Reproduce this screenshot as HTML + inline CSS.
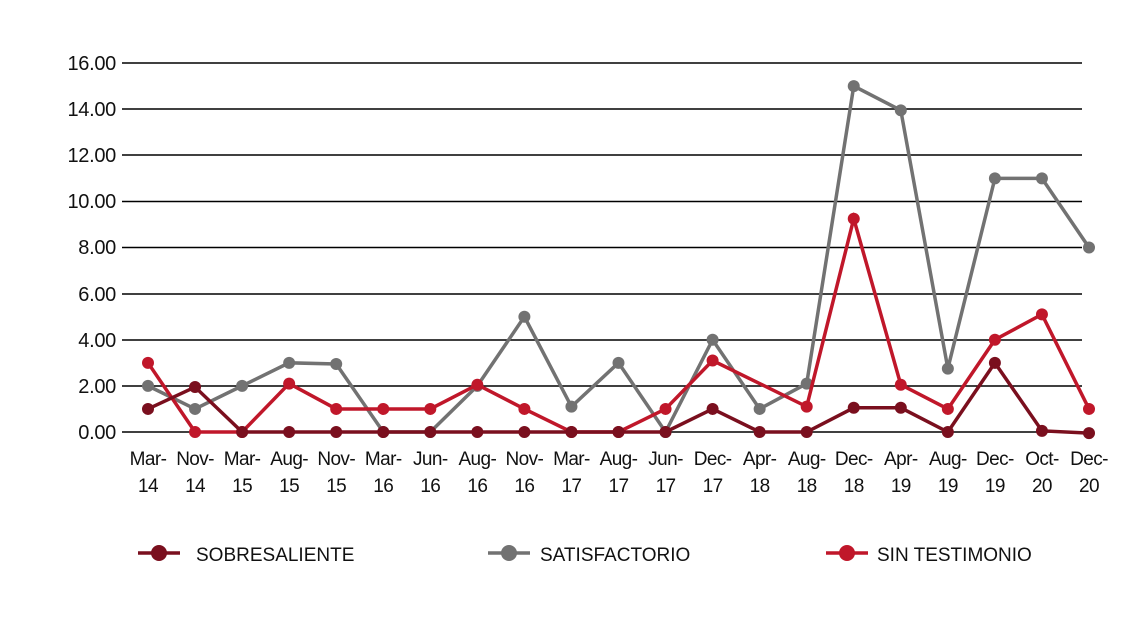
<!DOCTYPE html>
<html><head><meta charset="utf-8"><style>
body{margin:0;background:#fff;}
svg text{font-family:"Liberation Sans",sans-serif;fill:#111;}
</style></head><body>
<svg width="1136" height="625" xmlns="http://www.w3.org/2000/svg">
<g stroke="#000" stroke-width="1.5">
<line x1="122" x2="1082" y1="63" y2="63"/><line x1="122" x2="1082" y1="109" y2="109"/>
<line x1="122" x2="1082" y1="155" y2="155"/><line x1="122" x2="1082" y1="201.5" y2="201.5"/>
<line x1="122" x2="1082" y1="247.5" y2="247.5"/><line x1="122" x2="1082" y1="294" y2="294"/>
<line x1="122" x2="1082" y1="340" y2="340"/><line x1="122" x2="1082" y1="386" y2="386"/>
<line x1="122" x2="1082" y1="432" y2="432"/>
</g>
<g font-size="20" text-anchor="end" letter-spacing="-0.3">
<text x="116" y="70">16.00</text><text x="116" y="116">14.00</text><text x="116" y="162">12.00</text>
<text x="116" y="208">10.00</text><text x="116" y="254">8.00</text><text x="116" y="301">6.00</text>
<text x="116" y="347">4.00</text><text x="116" y="393">2.00</text><text x="116" y="439">0.00</text>
</g>
<g id="xl" font-size="19" text-anchor="middle" letter-spacing="-0.6"></g>
<g id="series"></g>
<g font-size="19">
<line x1="138" x2="180" y1="553" y2="553" stroke="#7a0f1e" stroke-width="3.5"/><circle cx="159" cy="553" r="8" fill="#7a0f1e"/>
<text x="196" y="561">SOBRESALIENTE</text>
<line x1="488" x2="530" y1="553" y2="553" stroke="#727272" stroke-width="3.5"/><circle cx="509" cy="553" r="8" fill="#727272"/>
<text x="540" y="561">SATISFACTORIO</text>
<line x1="826" x2="868" y1="553" y2="553" stroke="#c0172a" stroke-width="3.5"/><circle cx="847" cy="553" r="8" fill="#c0172a"/>
<text x="877" y="561">SIN TESTIMONIO</text>
</g>
<script>
var labs=["Mar-14","Nov-14","Mar-15","Aug-15","Nov-15","Mar-16","Jun-16","Aug-16","Nov-16","Mar-17","Aug-17","Jun-17","Dec-17","Apr-18","Aug-18","Dec-18","Apr-19","Aug-19","Dec-19","Oct-20","Dec-20"];
var ns="http://www.w3.org/2000/svg";
function X(i){return 148+i*47.05;}function Y(v){return 432-v*23.06;}
var g=document.getElementById("xl");
labs.forEach(function(l,i){var p=l.split("-");
var t=document.createElementNS(ns,"text");t.setAttribute("x",X(i));t.setAttribute("y",465);t.textContent=p[0]+"-";g.appendChild(t);
t=document.createElementNS(ns,"text");t.setAttribute("x",X(i));t.setAttribute("y",492);t.textContent=p[1];g.appendChild(t);});
var S=[
["#727272",[2,1,2,3,2.95,0,0,2,5,1.1,3,0,4,1,2.1,15,13.95,2.75,11,11,8],[]],
["#c0172a",[3,0,0,2.1,1,1,1,2.05,1,0,0,1,3.1,2.1,1.1,9.25,2.05,1,4,5.1,1],[13]],
["#7a0f1e",[1,1.95,0,0,0,0,0,0,0,0,0,0,1,0,0,1.05,1.05,0,3,0.05,-0.05],[]]];
var sg=document.getElementById("series");
S.forEach(function(s){var pts=s[1].map(function(v,i){return X(i)+","+Y(v);}).join(" ");
var pl=document.createElementNS(ns,"polyline");pl.setAttribute("points",pts);pl.setAttribute("fill","none");pl.setAttribute("stroke",s[0]);pl.setAttribute("stroke-width","3.5");sg.appendChild(pl);
s[1].forEach(function(v,i){if(s[2].indexOf(i)>=0)return;var c=document.createElementNS(ns,"circle");c.setAttribute("cx",X(i));c.setAttribute("cy",Y(v));c.setAttribute("r","6");c.setAttribute("fill",s[0]);sg.appendChild(c);});});
</script>
</svg>
</body></html>
